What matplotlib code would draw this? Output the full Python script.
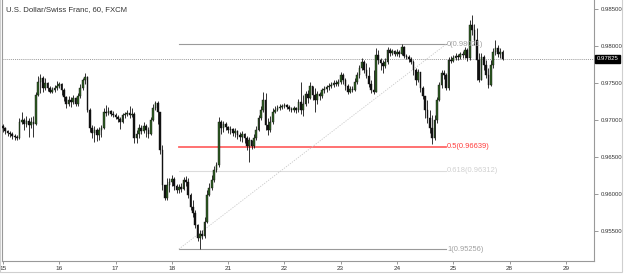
import numpy as np
import matplotlib.pyplot as plt
import matplotlib.transforms as mtransforms
from matplotlib.patches import Rectangle

plt.rcParams['font.family'] = ['Liberation Sans', 'DejaVu Sans']

# USD/CHF hourly candles (FXCM)
first_open = 0.9692
closes = [
    0.9689, 0.9685, 0.9683, 0.9681, 0.9678, 0.9677, 0.9676, 0.9697, 0.9700, 0.9695,
    0.9699, 0.9693, 0.9697, 0.9695, 0.9734, 0.9751, 0.9757, 0.9743, 0.9750, 0.9743,
    0.9738, 0.9741, 0.9743, 0.9746, 0.9749, 0.9741, 0.9731, 0.9722, 0.9727, 0.9724,
    0.9730, 0.9722, 0.9733, 0.9743, 0.9754, 0.9758, 0.9714, 0.9689, 0.9683, 0.9687,
    0.9680, 0.9687, 0.9689, 0.9711, 0.9710, 0.9712, 0.9708, 0.9707, 0.9704, 0.9701,
    0.9697, 0.9707, 0.9708, 0.9710, 0.9707, 0.9708, 0.9676, 0.9681, 0.9689, 0.9685,
    0.9692, 0.9687, 0.9681, 0.9700, 0.9716, 0.9723, 0.9711, 0.9660, 0.9612, 0.9595,
    0.9612, 0.9616, 0.9620, 0.9611, 0.9605, 0.9610, 0.9607, 0.9619, 0.9616, 0.9599,
    0.9583, 0.9574, 0.9558, 0.9541, 0.9546, 0.9543, 0.9562, 0.9599, 0.9608, 0.9619,
    0.9633, 0.9639, 0.9697, 0.9689, 0.9695, 0.9691, 0.9687, 0.9688, 0.9683, 0.9685,
    0.9680, 0.9677, 0.9681, 0.9676, 0.9665, 0.9673, 0.9665, 0.9676, 0.9687, 0.9703,
    0.9714, 0.9727, 0.9693, 0.9687, 0.9697, 0.9711, 0.9714, 0.9716, 0.9718, 0.9719,
    0.9720, 0.9718, 0.9715, 0.9714, 0.9716, 0.9714, 0.9724, 0.9714, 0.9722, 0.9735,
    0.9730, 0.9746, 0.9734, 0.9727, 0.9735, 0.9733, 0.9741, 0.9742, 0.9745, 0.9746,
    0.9747, 0.9750, 0.9749, 0.9751, 0.9761, 0.9754, 0.9746, 0.9738, 0.9742, 0.9741,
    0.9751, 0.9761, 0.9770, 0.9778, 0.9768, 0.9760, 0.9749, 0.9741, 0.9738, 0.9788,
    0.9781, 0.9777, 0.9773, 0.9778, 0.9795, 0.9791, 0.9793, 0.9789, 0.9792, 0.9789,
    0.9799, 0.9787, 0.9785, 0.9783, 0.9778, 0.9768, 0.9754, 0.9765, 0.9743, 0.9733,
    0.9714, 0.9703, 0.9689, 0.9676, 0.9700, 0.9727, 0.9747, 0.9764, 0.9761, 0.9743,
    0.9781, 0.9780, 0.9784, 0.9787, 0.9785, 0.9789, 0.9788, 0.9795, 0.9784, 0.9828,
    0.9822, 0.9808, 0.9781, 0.9754, 0.9785, 0.9774, 0.9761, 0.9747, 0.9774, 0.9792,
    0.9797, 0.9789, 0.9792, 0.97825,
]
highs = [
    0.9695, 0.9691, 0.9687, 0.9685, 0.9684, 0.9681, 0.9680, 0.9703, 0.9711, 0.9703,
    0.9705, 0.9703, 0.9704, 0.9705, 0.9738, 0.9760, 0.9762, 0.9760, 0.9757, 0.9751,
    0.9746, 0.9745, 0.9747, 0.9753, 0.9751, 0.9750, 0.9743, 0.9733, 0.9733, 0.9731,
    0.9734, 0.9731, 0.9737, 0.9749, 0.9757, 0.9764, 0.9760, 0.9716, 0.9693, 0.9692,
    0.9689, 0.9691, 0.9693, 0.9716, 0.9720, 0.9718, 0.9714, 0.9712, 0.9710, 0.9707,
    0.9704, 0.9710, 0.9711, 0.9714, 0.9719, 0.9716, 0.9711, 0.9687, 0.9695, 0.9693,
    0.9697, 0.9695, 0.9691, 0.9704, 0.9722, 0.9726, 0.9726, 0.9703, 0.9666, 0.9612,
    0.9622, 0.9622, 0.9626, 0.9623, 0.9614, 0.9614, 0.9615, 0.9623, 0.9624, 0.9622,
    0.9601, 0.9592, 0.9578, 0.9560, 0.9551, 0.9551, 0.9569, 0.9605, 0.9615, 0.9626,
    0.9638, 0.9643, 0.9704, 0.9700, 0.9699, 0.9697, 0.9692, 0.9692, 0.9689, 0.9689,
    0.9687, 0.9684, 0.9685, 0.9683, 0.9678, 0.9677, 0.9673, 0.9681, 0.9692, 0.9707,
    0.9719, 0.9738, 0.9737, 0.9703, 0.9705, 0.9716, 0.9719, 0.9720, 0.9722, 0.9722,
    0.9723, 0.9722, 0.9720, 0.9718, 0.9719, 0.9718, 0.9728, 0.9751, 0.9734, 0.9739,
    0.9741, 0.9751, 0.9746, 0.9743, 0.9739, 0.9738, 0.9743, 0.9746, 0.9747, 0.9750,
    0.9751, 0.9754, 0.9754, 0.9755, 0.9765, 0.9764, 0.9757, 0.9749, 0.9746, 0.9746,
    0.9757, 0.9765, 0.9774, 0.9784, 0.9781, 0.9777, 0.9772, 0.9754, 0.9768, 0.9797,
    0.9795, 0.9784, 0.9781, 0.9784, 0.9799, 0.9797, 0.9796, 0.9795, 0.9796, 0.9795,
    0.98021, 0.9800, 0.9789, 0.9788, 0.9785, 0.9781, 0.9770, 0.9769, 0.9765, 0.9746,
    0.9733, 0.9727, 0.9714, 0.9707, 0.9707, 0.9731, 0.9751, 0.9768, 0.9768, 0.9764,
    0.9785, 0.9787, 0.9788, 0.9791, 0.9789, 0.9792, 0.9793, 0.9799, 0.9797, 0.9835,
    0.9842, 0.9830, 0.9824, 0.9791, 0.9791, 0.9788, 0.9781, 0.9770, 0.9781, 0.9797,
    0.9808, 0.9801, 0.9797, 0.9795,
]
lows = [
    0.9684, 0.9681, 0.9678, 0.9677, 0.9674, 0.9673, 0.9673, 0.9674, 0.9695, 0.9687,
    0.9691, 0.9677, 0.9689, 0.9677, 0.9693, 0.9733, 0.9737, 0.9738, 0.9741, 0.9739,
    0.9737, 0.9737, 0.9738, 0.9741, 0.9743, 0.9734, 0.9726, 0.9716, 0.9719, 0.9718,
    0.9722, 0.9719, 0.9719, 0.9730, 0.9741, 0.9749, 0.9711, 0.9684, 0.9676, 0.9670,
    0.9672, 0.9673, 0.9677, 0.9688, 0.9705, 0.9707, 0.9705, 0.9704, 0.9701, 0.9697,
    0.9688, 0.9696, 0.9703, 0.9705, 0.9703, 0.9704, 0.9669, 0.9669, 0.9676, 0.9681,
    0.9683, 0.9677, 0.9676, 0.9680, 0.9699, 0.9714, 0.9695, 0.9654, 0.9605, 0.9592,
    0.9592, 0.9603, 0.9611, 0.9605, 0.9601, 0.9601, 0.9603, 0.9605, 0.9611, 0.9595,
    0.9578, 0.9569, 0.9554, 0.9537, 0.95256, 0.9539, 0.9541, 0.9561, 0.9597, 0.9605,
    0.9616, 0.9630, 0.9637, 0.9681, 0.9684, 0.9687, 0.9683, 0.9681, 0.9678, 0.9677,
    0.9674, 0.9672, 0.9670, 0.9669, 0.9660, 0.9643, 0.9661, 0.9662, 0.9673, 0.9685,
    0.9700, 0.9711, 0.9687, 0.9680, 0.9684, 0.9695, 0.9710, 0.9712, 0.9714, 0.9715,
    0.9716, 0.9715, 0.9712, 0.9711, 0.9711, 0.9710, 0.9711, 0.9708, 0.9705, 0.9719,
    0.9723, 0.9728, 0.9727, 0.9711, 0.9722, 0.9727, 0.9730, 0.9737, 0.9738, 0.9741,
    0.9743, 0.9745, 0.9746, 0.9746, 0.9749, 0.9749, 0.9741, 0.9735, 0.9737, 0.9738,
    0.9739, 0.9749, 0.9757, 0.9768, 0.9764, 0.9757, 0.9745, 0.9737, 0.9735, 0.9738,
    0.9776, 0.9768, 0.9764, 0.9770, 0.9776, 0.9787, 0.9788, 0.9787, 0.9787, 0.9785,
    0.9788, 0.9784, 0.9783, 0.9778, 0.9776, 0.9761, 0.9747, 0.9751, 0.9738, 0.9728,
    0.9703, 0.9696, 0.9683, 0.9668, 0.9673, 0.9696, 0.9726, 0.9743, 0.9755, 0.9741,
    0.9741, 0.9777, 0.9778, 0.9781, 0.9781, 0.9783, 0.9784, 0.9784, 0.9780, 0.9781,
    0.9815, 0.9801, 0.9754, 0.9751, 0.9754, 0.9768, 0.9757, 0.9743, 0.9746, 0.9770,
    0.9788, 0.9785, 0.9784, 0.9781,
]
day_labels = ["15", "16", "17", "18", "21", "22", "23", "24", "25", "28", "29"]
bars_per_day = 24
last_price = 0.97825

# fibonacci retracement drawn between swing low and swing high
fib_low, fib_high = 0.95256, 0.98021
fib_start, fib_end = 75, 188.8  # bar positions
fib_levels = [0, 0.5, 0.618, 1]
fib_colors = ["#9a9a9a", "#ff6666", "#dcdcdc", "#9a9a9a"]
fib_text_colors = ["#a0a0a0", "#ff3b3b", "#d0d0d0", "#a0a0a0"]

closes = np.array(closes)
opens = np.concatenate([[first_open], closes[:-1]])
highs = np.maximum(np.array(highs), np.maximum(opens, closes))
lows = np.minimum(np.array(lows), np.minimum(opens, closes))
idx = np.arange(len(closes))

fig = plt.figure(figsize=(6.25, 2.75), dpi=100)
ax = fig.add_axes([2 / 625, 14 / 275, 592 / 625, 261 / 275])

# candles
up = closes >= opens
ax.vlines(idx, lows, highs, color="#111111", lw=0.6, zorder=2)
body = np.where(np.abs(closes - opens) < 0.00003, 0.00003, closes - opens)
ax.bar(idx[up], body[up], bottom=opens[up], width=0.72, color="#2f5e22",
       edgecolor="#111111", lw=0.3, zorder=3)
ax.bar(idx[~up], body[~up], bottom=opens[~up], width=0.72, color="#111111",
       edgecolor="#111111", lw=0.3, zorder=3)

# fib lines
for lv, col, tcol in zip(fib_levels, fib_colors, fib_text_colors):
    price = fib_high - lv * (fib_high - fib_low)
    ax.plot([fib_start, fib_end], [price, price], color=col,
            lw=1.3 if lv == 0.5 else 0.8, zorder=1)
    lab = f"{lv:g}({price:.5f})"
    ax.text(fib_end + 0.6, price, lab, color=tcol, fontsize=5.4,
            va="center", ha="left")
ax.plot([fib_start, fib_end], [fib_low, fib_high], color="#c8c8c8", lw=0.6,
        ls=(0, (1.5, 1.5)), zorder=1)

# last price line
ax.axhline(last_price, color="#777777", lw=0.5, ls=(0, (1.5, 1.5)), zorder=1)
trans = mtransforms.blended_transform_factory(ax.transAxes, ax.transData)
ax.text(1.004, last_price, f"{last_price:.5f}", transform=trans, color="white",
        fontsize=4.3, va="center", ha="left",
        bbox=dict(boxstyle="square,pad=0.3", fc="black", ec="black"))

ax.set_xlim(-0.4, 252)
ax.set_ylim(0.95095, 0.98622)

ax.set_xticks(np.arange(len(day_labels)) * bars_per_day)
ax.set_xticklabels(day_labels)
yt = np.arange(0.955, 0.9851, 0.005)
ax.set_yticks(yt)
ax.set_yticklabels([f"{v:.5f}" for v in yt])
ax.yaxis.tick_right()
ax.tick_params(axis="y", length=3, width=0.6, color="#888888", labelsize=4.3,
               labelcolor="#333333", pad=2)
ax.tick_params(axis="x", length=2, width=0.6, color="#888888", labelsize=4.6,
               labelcolor="#333333", pad=1.5)

for side in ["left", "right", "bottom"]:
    ax.spines[side].set_color("#999999")
    ax.spines[side].set_linewidth(0.8)
ax.spines["top"].set_visible(False)

fig.text(6 / 625, 1 - 10 / 275, "U.S. Dollar/Swiss Franc, 60, FXCM",
         fontsize=5.6, color="#333333", va="center", ha="left")

# outer frame
fig.patches.append(Rectangle((0, 3 / 275), 622 / 625, 272 / 275 - 3 / 275 + 0.02,
                             transform=fig.transFigure, fill=False,
                             ec="#cfcfcf", lw=0.8))

fig.savefig("out.png", dpi=100)
